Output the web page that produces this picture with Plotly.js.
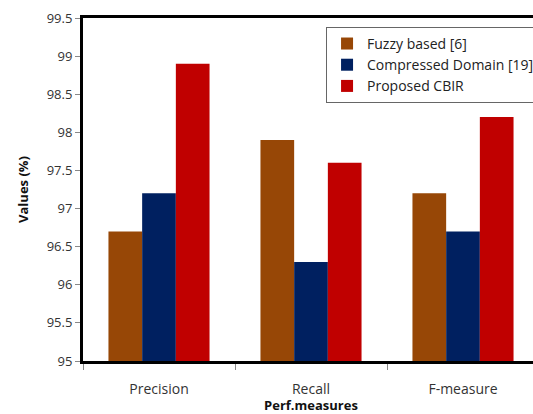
<!DOCTYPE html>
<html><head><meta charset="utf-8">
<script src="https://cdn.plot.ly/plotly-3.0.1.min.js"></script>
<style>html,body{margin:0;background:#fff;overflow:hidden}#c{width:560px;height:414px}</style>
</head><body><div id="c"></div>
<script>
const categories = ["Precision", "Recall", "F-measure"];
const seriesNames = ["Fuzzy based [6]", "Compressed Domain [19]", "Proposed CBIR"];
const fuzzy = [96.7, 97.9, 97.2];
const compressed = [97.2, 96.3, 96.7];
const proposed = [98.9, 97.6, 98.2];
const yTicks = [95, 95.5, 96, 96.5, 97, 97.5, 98, 98.5, 99, 99.5];
const colors = ["#974706", "#002060", "#C00000"];
const values = [fuzzy, compressed, proposed];

const font = "Open Sans, Liberation Sans, sans-serif";
const traces = values.map((v, i) => ({
  type: "bar", x: categories, y: v, name: seriesNames[i],
  marker: {color: colors[i], line: {width: 0}}
}));
const layout = {
  width: 560, height: 414,
  margin: {l: 83, r: 21, t: 18, b: 53},
  paper_bgcolor: "#fff", plot_bgcolor: "#fff",
  barmode: "group", bargap: 0.335, bargroupgap: 0,
  font: {family: font, size: 13, color: "#222"},
  xaxis: {
    range: [-0.5, 2.5], showline: true, linecolor: "#000", linewidth: 3,
    mirror: true, ticks: "outside", tickson: "boundaries", ticklen: 6,
    tickcolor: "#888", tickfont: {size: 14, color: "#333"}, ticklabelstandoff: 13,
    title: {text: "<b>Perf.measures</b>", font: {size: 13, color: "#111"}, standoff: 1},
    fixedrange: true
  },
  yaxis: {
    range: [95, 99.5], tickvals: yTicks, ticktext: yTicks.map(String),
    showline: true, linecolor: "#000", linewidth: 3, showgrid: false, zeroline: false,
    ticks: "outside", ticklen: 5, tickcolor: "#888",
    tickfont: {size: 13, color: "#333"},
    title: {text: "<b>Values (%)</b>", font: {size: 13, color: "#111"}, standoff: 16}
  },
  legend: {
    x: 0.533, y: 0.974, xanchor: "left", yanchor: "top",
    bgcolor: "#fff", bordercolor: "#666", borderwidth: 1,
    font: {size: 14, color: "#222"}, tracegroupgap: 0, itemwidth: 30
  },
  showlegend: true
};
Plotly.newPlot("c", traces, layout, {staticPlot: true});
</script></body></html>
